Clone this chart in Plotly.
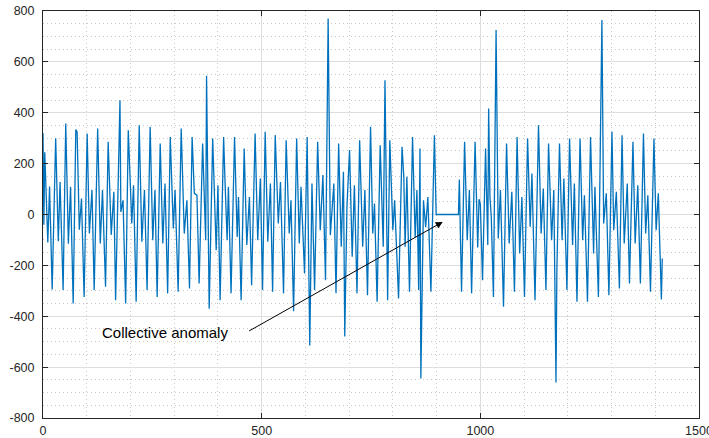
import plotly.graph_objects as go

# Vertices of the signal trace (sample index, amplitude)
sample_index = [
    0, 2, 4, 11, 15, 21, 29, 35, 39, 46, 52, 58, 63, 69, 75, 78, 83, 88, 94, 101,
    106, 112, 117, 125, 131, 136, 143, 149, 156, 162, 166, 173, 176, 178, 183, 189,
    195, 203, 207, 213, 220, 226, 232, 238,
    245, 251, 256, 261, 268, 274, 279, 285, 291, 298, 302, 309, 316, 323, 329, 335,
    341, 346, 352, 357, 365, 372, 374, 380, 388, 396, 400, 405, 413, 416, 421, 424,
    430, 438, 444, 447, 453, 460, 466, 472, 477, 485,
    491, 497, 502, 508, 514, 520, 525, 531, 538, 543, 550, 556, 563, 567, 573, 580,
    586, 590, 598, 604, 610, 615, 621, 628, 634, 640, 646, 652, 657, 665, 670, 676,
    682, 687, 690, 695, 701, 707, 712, 718, 724, 731, 736, 742,
    749, 754, 758, 764, 771, 778, 782, 788, 793, 800, 804, 813, 821, 825, 828, 832,
    838, 845, 851, 855, 859, 862, 864, 870, 875, 880, 887, 895, 899, 950, 952, 957,
    964, 970, 975, 980, 988,
    994, 997, 1000, 1005, 1012, 1017, 1019, 1022, 1025, 1030, 1036, 1041, 1046, 1053,
    1060, 1066, 1072, 1078, 1084, 1090, 1095, 1101, 1108, 1114, 1118, 1125, 1133, 1139,
    1144, 1150, 1156, 1163, 1168, 1173, 1175, 1181, 1187, 1191, 1198, 1204, 1211, 1215,
    1221, 1228, 1234, 1238, 1245,
    1252, 1259, 1262, 1270, 1275, 1278, 1282, 1288, 1294, 1301, 1305, 1311, 1318, 1324,
    1329, 1336, 1341, 1349, 1354, 1360, 1366, 1373, 1378, 1383, 1389, 1397, 1402, 1407,
    1414, 1416,
]
amplitude = [
    320, -40, 245, -110, 110, -295, 300, -105, 128, -297, 358, -115, 109, -350, 334, 325, -60, 63, -324, 318,
    -75, 96, -297, 338, -114, 96, -284, 286, -80, 89, -337, 259, 449, 10, 56, -350,
    331, -35, 115, -343, 351, -107, 96, -297,
    345, -101, 96, -324, 279, -114, 122, -310, 305, -55, 96, -304, 338, -75, 56, -291,
    305, 83, 76, -271, 279, -101, 545, -370, 299, -140, 115, -337, 305, 141, -101, 109,
    -310, 305, -88, 69, -337, 259, -120, 69, -278, 318,
    -101, 141, -297, 325, -107, 122, -304, 312, -35, 128, -310, 292, -75, 56, -380, 299,
    -114, 109, -232, 305, -515, 122, -297, 286, -62, 155, -258, 770, -81, 122, -310, 279,
    -127, 168, -480, 30, 253, -166, 115, -310, 292, -127, 96, -317,
    345, -75, 43, -343, 272, -127, 528, -337, 292, -62, 56, -330, 266, 148, -127, 148,
    -304, 305, -90, 96, -297, 259, -645, 56, -50, 69, -304, 312, 0, 0, 138, -304,
    286, -101, 96, -310, 286,
    -130, 60, 40, -258, 259, -120, 417, 69, -9, -324, 725, -94, 96, -363,
    279, -114, 89, -304, 305, -153, 69, -324, 299, -48, 161, -337, 351, -75,
    102, -297, 279, -101, 96, -660, -219, 279, -101, 141, -297, 299, -120, 122,
    -343, 299, -101, 76, -343,
    305, -153, 109, -324, 253, 765, -35, 83, -317, 325, -62, 89, -291, 312,
    -114, 122, -271, 286, -114, 115, -271, 318, -75, 76, -304, 299, -62, 83,
    -334, -173,
]

x_ticks = [0, 500, 1000, 1500]
y_ticks = [-800, -600, -400, -200, 0, 200, 400, 600, 800]

label_text = "Collective anomaly"
arrow_tip = (914, -29)
arrow_tail = (468, -461)
label_pos = (427, -465)

axis_col = "#262626"
font_family = "Liberation Sans, Arial, Helvetica, sans-serif"

fig = go.Figure()
fig.add_trace(go.Scatter(
    x=sample_index, y=amplitude, mode="lines",
    line=dict(color="#0072BD", width=1.3),
    hoverinfo="skip", showlegend=False,
))

fig.add_annotation(
    x=arrow_tip[0], y=arrow_tip[1], ax=arrow_tail[0], ay=arrow_tail[1],
    xref="x", yref="y", axref="x", ayref="y",
    text="", showarrow=True, arrowhead=2, arrowsize=1.4, arrowwidth=1,
    arrowcolor="#000000", standoff=0,
)
fig.add_annotation(
    x=label_pos[0], y=label_pos[1], xref="x", yref="y",
    text=label_text, showarrow=False, xanchor="right", yanchor="middle",
    font=dict(family=font_family, size=15, color="#000000"),
)

common = dict(
    showline=True, linecolor=axis_col, linewidth=1, mirror="ticks",
    ticks="inside", ticklen=5, tickcolor=axis_col, tickwidth=1,
    showgrid=True, gridcolor="#dedede", gridwidth=1,
    zeroline=False, automargin=False, ticklabeloverflow="allow",
    tickfont=dict(family=font_family, size=12.5, color=axis_col),
)

fig.update_xaxes(
    range=[0, 1500], tickmode="array", tickvals=x_ticks,
    ticktext=[str(v) for v in x_ticks],
    minor=dict(dtick=100, tick0=0, showgrid=True, gridcolor="#c8c8c8",
               griddash="1px,3px", gridwidth=1, ticks=""),
    ticklabelstandoff=1,
    **common,
)
fig.update_yaxes(
    range=[-800, 800], tickmode="array", tickvals=y_ticks,
    ticktext=[str(v) for v in y_ticks],
    minor=dict(dtick=50, tick0=0, showgrid=True, gridcolor="#c8c8c8",
               griddash="1px,3px", gridwidth=1, ticks=""),
    ticklabelstandoff=5,
    **common,
)

fig.update_layout(
    width=709, height=438,
    margin=dict(l=43, r=10, t=11, b=20, pad=0),
    paper_bgcolor="white", plot_bgcolor="white",
    template="none",
)

fig.write_html(
    "out.html",
    config={"displayModeBar": False},
    post_script="document.body.style.margin='0';document.body.style.overflow='hidden';",
)
